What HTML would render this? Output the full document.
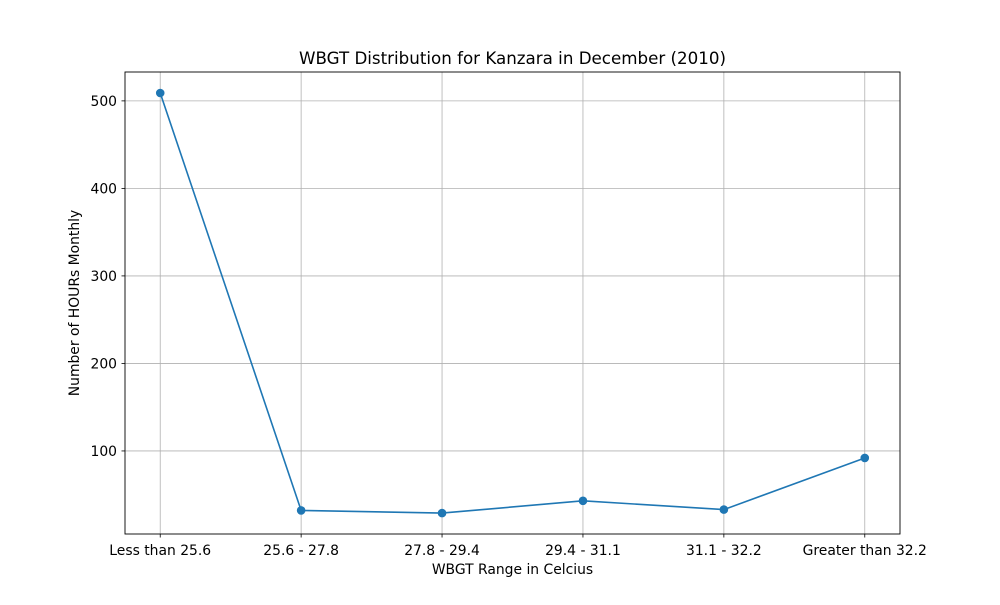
<!DOCTYPE html>
<html><head><meta charset="utf-8"><style>body{margin:0;background:#fff}svg{font-family:"DejaVu Sans","Liberation Sans",sans-serif}</style></head>
<body>
<svg id="chart" width="1000" height="600"></svg>
<script>
const categories=["Less than 25.6","25.6 - 27.8","27.8 - 29.4","29.4 - 31.1","31.1 - 32.2","Greater than 32.2"];
const hours=[509,32,29,43,33,92];
const yTicks=[100,200,300,400,500];
const L=125,R=900,T=72,B=534,yMin=5.1,yMax=533;
const NS="http://www.w3.org/2000/svg";
const svg=document.getElementById('chart');
const xs=i=>L+(i+0.25)*(R-L)/(categories.length-1+0.5);
const ys=v=>B-(v-yMin)*(B-T)/(yMax-yMin);
function mk(t,a,txt){const e=document.createElementNS(NS,t);for(const k in a)e.setAttribute(k,a[k]);if(txt!=null)e.textContent=txt;svg.appendChild(e);return e;}
categories.forEach((c,i)=>{const x=xs(i);
let g=mk('line',{x1:x,x2:x,y1:T,y2:B,stroke:'#b0b0b0','stroke-width':0.8});

mk('line',{x1:x,x2:x,y1:B,y2:B+3.5,stroke:'#000','stroke-width':0.8});
let t=mk('text',{x:x,y:B+21,'text-anchor':'middle','font-size':13.9},c);
});
yTicks.forEach(v=>{const y=ys(v);
let g=mk('line',{x1:L,x2:R,y1:y,y2:y,stroke:'#b0b0b0','stroke-width':0.8});

mk('line',{x1:L-3.5,x2:L,y1:y,y2:y,stroke:'#000','stroke-width':0.8});
let t=mk('text',{x:L-8,y:y+5,'text-anchor':'end','font-size':13.9},v);
});
let p=mk('polyline',{points:hours.map((v,i)=>xs(i)+','+ys(v)).join(' '),fill:'none',stroke:'#1f77b4','stroke-width':1.6});

hours.forEach((v,i)=>{let c=mk('circle',{cx:xs(i),cy:ys(v),r:4.3,fill:'#1f77b4'});
});
let f=mk('rect',{x:L,y:T,width:R-L,height:B-T,fill:'none',stroke:'#000','stroke-width':0.9});

let ti=mk('text',{x:(L+R)/2,y:64,'text-anchor':'middle','font-size':16.7},'WBGT Distribution for Kanzara in December (2010)');

let xl=mk('text',{x:(L+R)/2,y:574,'text-anchor':'middle','font-size':13.9},'WBGT Range in Celcius');

let yl=mk('text',{x:79,y:303,'text-anchor':'middle','font-size':13.9,transform:'rotate(-90 79 303)'},'Number of HOURs Monthly');

</script>
</body></html>
